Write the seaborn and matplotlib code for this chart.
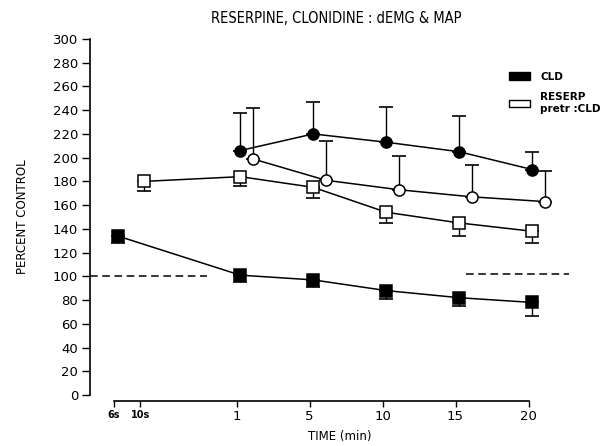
import matplotlib

matplotlib.use("Agg")
import matplotlib.pyplot as plt
import pandas as pd
import seaborn as sns
from matplotlib.patches import Patch

# time axis: categorical ticks, seconds squeezed to the left
TIME_LABELS = ["6s", "10s", "1", "5", "10", "15", "20"]
TIME_POS = [-1.68, -1.32, 0, 1, 2, 3, 4]

# CLD alone (filled symbols)
CLD_MAP_TIMES = ["6s", "1", "5", "10", "15", "20"]
CLD_MAP = [134, 101, 97, 88, 82, 78]
CLD_MAP_SEM = [6, 6, 6, 7, 7, 11]

CLD_EMG_TIMES = ["1", "5", "10", "15", "20"]
CLD_EMG = [206, 220, 213, 205, 190]
CLD_EMG_SEM = [32, 27, 30, 30, 15]

# reserpine pretreated + CLD (open symbols)
RES_MAP_TIMES = ["10s", "1", "5", "10", "15", "20"]
RES_MAP = [180, 184, 175, 154, 145, 138]
RES_MAP_SEM = [8, 8, 9, 9, 11, 10]

RES_EMG_TIMES = ["1", "5", "10", "15", "20"]
RES_EMG = [199, 181, 173, 167, 163]
RES_EMG_SEM = [43, 33, 28, 27, 26]

# dashed control levels, spans in axis units
CONTROL_LEVELS = [100, 102]
CONTROL_SPANS = [(-2.01, -0.41), (3.14, 4.55)]


def main() -> None:
    sns.set_theme(style="ticks")
    plt.rcParams["font.family"] = ["DejaVu Sans"]
    for key in ("text.color", "axes.labelcolor", "xtick.color", "ytick.color"):
        plt.rcParams[key] = "black"

    pos = dict(zip(TIME_LABELS, TIME_POS))
    series = [
        ("CLD MAP", CLD_MAP_TIMES, CLD_MAP, CLD_MAP_SEM, "s", "black", "down", 0.05),
        ("CLD dEMG", CLD_EMG_TIMES, CLD_EMG, CLD_EMG_SEM, "o", "black", "up", 0.05),
        ("RES MAP", RES_MAP_TIMES, RES_MAP, RES_MAP_SEM, "s", "white", "down", 0.05),
        ("RES dEMG", RES_EMG_TIMES, RES_EMG, RES_EMG_SEM, "o", "white", "up", 0.22),
    ]

    fig = plt.figure(figsize=(6.11, 4.46), dpi=100)
    ax = fig.add_axes([0.1473, 0.1143, 0.818, 0.7983])

    for level, (x0, x1) in zip(CONTROL_LEVELS, CONTROL_SPANS):
        ax.plot([x0, x1], [level, level], color="black", lw=1.1, ls=(0, (5, 3)), zorder=1)

    for name, times, values, sem, marker, face, side, dodge in series:
        df = pd.DataFrame({"x": [pos[t] + dodge for t in times], "y": values})
        lower = sem if side == "down" else [0] * len(sem)
        upper = sem if side == "up" else [0] * len(sem)
        ax.errorbar(
            df["x"], df["y"], yerr=[lower, upper], fmt="none",
            ecolor="black", elinewidth=1.0, capsize=5, capthick=1.2, zorder=2,
        )
        sns.lineplot(
            data=df, x="x", y="y", ax=ax, color="black", lw=1.1,
            marker=marker, markersize=8, markerfacecolor=face,
            markeredgecolor="black", markeredgewidth=1.1, zorder=3,
        )

    ax.set_xlim(-2.01, 4.84)
    ax.set_ylim(0, 300)
    ax.set_yticks(range(0, 301, 20))
    ax.set_xticks(TIME_POS)
    ax.set_xticklabels(TIME_LABELS)
    ax.tick_params(axis="y", labelsize=9.5, length=5.5, width=1, direction="out", pad=3)
    ax.tick_params(axis="x", labelsize=9.5, length=4, width=1, direction="out", pad=3)

    sns.despine(ax=ax)
    ax.spines["bottom"].set_position(("outward", 4))
    ax.spines["bottom"].set_bounds(TIME_POS[0], TIME_POS[-1])
    for sp in ("left", "bottom"):
        ax.spines[sp].set_linewidth(1.2)
        ax.spines[sp].set_color("black")

    ax.set_xlabel("TIME (min)", fontsize=8.5, labelpad=5)
    ax.set_ylabel("PERCENT CONTROL", fontsize=8.5, labelpad=17)

    fig.suptitle(
        "RESERPINE, CLONIDINE : dEMG & MAP", x=0.55, y=0.975, fontsize=10.5,
        family="DejaVu Sans", fontstretch="condensed",
    )

    handles = [
        Patch(facecolor="black", edgecolor="black", label="CLD"),
        Patch(facecolor="white", edgecolor="black", label="RESERP\npretr :CLD"),
    ]
    ax.legend(
        handles=handles, loc="upper left", bbox_to_anchor=(0.83, 0.92),
        frameon=False, handlelength=2.0, handleheight=0.7,
        labelspacing=1.0, handletextpad=1.0, borderaxespad=0,
        prop={"weight": "bold", "size": 7.5},
    )

    fig.canvas.draw()
    for lab in ax.get_xticklabels()[:2]:
        lab.set_fontweight("bold")
        lab.set_fontsize(7)

    fig.savefig("out.png", dpi=100)
    plt.close(fig)


if __name__ == "__main__":
    main()
